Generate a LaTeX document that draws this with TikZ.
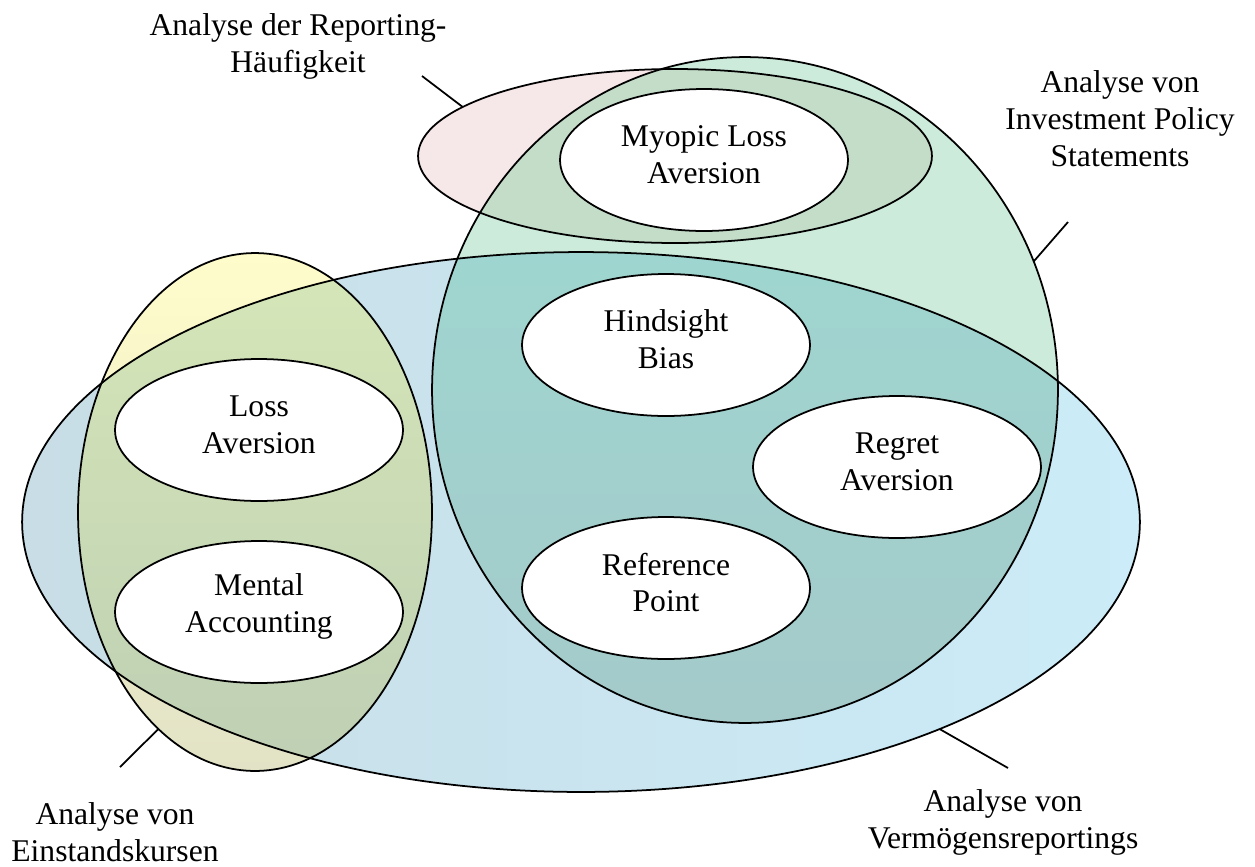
\documentclass[tikz,border=0pt]{standalone}
\usepackage{fontspec}
\setmainfont{Liberation Serif}
\usetikzlibrary{shapes.geometric}
\definecolor{blueL}{RGB}{200,221,230}
\definecolor{blueR}{RGB}{203,236,248}
\definecolor{yelT}{RGB}{255,252,203}
\definecolor{yelB}{RGB}{226,226,198}
\definecolor{ybT}{RGB}{214,231,184}
\definecolor{ybB}{RGB}{190,207,180}
\definecolor{greenC}{RGB}{204,235,219}
\definecolor{pinkC}{RGB}{246,231,232}
\definecolor{pgC}{RGB}{196,221,201}
\definecolor{gbT}{RGB}{157,218,210}
\definecolor{gbB}{RGB}{164,202,202}
\begin{document}
\begin{tikzpicture}[x=0.02cm,y=-0.02cm,
  font=\fontsize{18}{21}\selectfont,
  region/.style={ellipse, draw=black, line width=1pt, inner sep=0pt, outer sep=0pt},
  bias/.style={ellipse, draw=black, line width=1pt, fill=white, minimum width=5.76cm, minimum height=2.84cm, inner sep=0pt, outer sep=0pt},
  biastext/.style={align=center, inner sep=0pt, yshift=0.11cm},
  lbl/.style={align=center, inner sep=0pt},
  leader/.style={line width=1pt}]
\useasboundingbox (0,0) rectangle (1255,866);
% ---- fills
\shade[left color=blueL,right color=blueR] (581,522) ellipse [x radius=559,y radius=270];
\shade[top color=yelT,bottom color=yelB] (255,512) ellipse [x radius=177,y radius=259];
\begin{scope}
  \clip (581,522) ellipse [x radius=559,y radius=270];
  \shade[top color=ybT,bottom color=ybB] (255,512) ellipse [x radius=177,y radius=259];
\end{scope}
\fill[greenC] (745,390) ellipse [x radius=313,y radius=333];
\begin{scope}
  \clip (581,522) ellipse [x radius=559,y radius=270];
  \shade[top color=gbT,bottom color=gbB] (745,390) ellipse [x radius=313,y radius=333];
\end{scope}
\fill[pinkC] (675,156) ellipse [x radius=257,y radius=87];
\begin{scope}
  \clip (745,390) ellipse [x radius=313,y radius=333];
  \fill[pgC] (675,156) ellipse [x radius=257,y radius=87];
\end{scope}
% ---- outlines (named regions)
\node[region, minimum width=22.36cm, minimum height=10.8cm] (verm) at (581,522) {};
\node[region, minimum width=7.08cm, minimum height=10.36cm] (einst) at (255,512) {};
\node[region, minimum width=12.52cm, minimum height=13.32cm] (ips) at (745,390) {};
\node[region, minimum width=10.28cm, minimum height=3.48cm] (freq) at (675,156) {};
% ---- biases
\node[bias, label={[biastext]center:Myopic Loss\\Aversion}] (myopic) at (704,160) {};
\node[bias, label={[biastext]center:Hindsight\\Bias}] (hind) at (666,345) {};
\node[bias, label={[biastext]center:Regret\\Aversion}] (regret) at (897,467) {};
\node[bias, label={[biastext]center:Reference\\Point}] (ref) at (666,588) {};
\node[bias, label={[biastext]center:Loss\\Aversion}] (loss) at (259,430) {};
\node[bias, label={[biastext]center:Mental\\Accounting}] (mental) at (259,612) {};
% ---- labels
\node[lbl] (lRep) at (298,46) {Analyse der Reporting-\\Häufigkeit};
\node[lbl] (lIPS) at (1120,119) {Analyse von\\Investment Policy\\Statements};
\node[lbl] (lEin) at (115,832) {Analyse von\\Einstandskursen};
\node[lbl] (lVer) at (1003,822) {Analyse von\\Vermögensreportings};
% ---- leaders
\coordinate (cRep) at (422,76);
\coordinate (cIPS) at (1068,222);
\coordinate (cEin) at (120,767);
\coordinate (cVer) at (1008,768);
\draw[leader] (cRep) -- (freq.167);
\draw[leader] (cIPS) -- (ips.24.8);
\draw[leader] (cEin) -- (einst.246.2);
\draw[leader] (cVer) -- (verm.330.4);
\end{tikzpicture}
\end{document}
